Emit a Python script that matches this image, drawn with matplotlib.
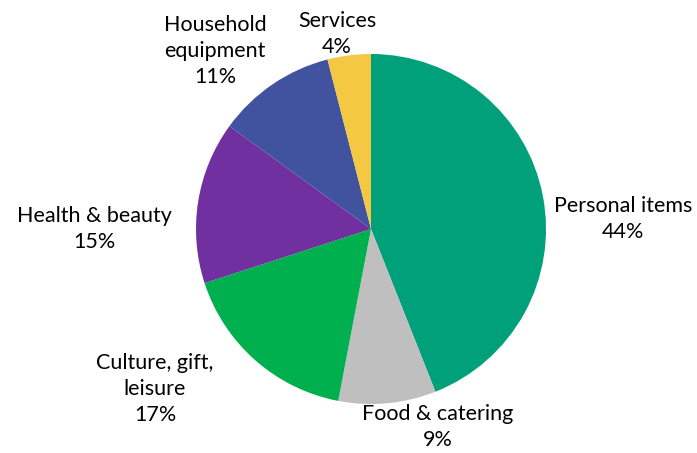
import matplotlib
matplotlib.use("Agg")
import matplotlib.pyplot as plt

categories = ["Personal items", "Food & catering", "Culture, gift,\nleisure",
              "Health & beauty", "Household\nequipment", "Services"]
shares = [44, 9, 17, 15, 11, 4]
colors = ["#00A07A", "#BFBFBF", "#00B04F", "#7030A0", "#41539F", "#F4C842"]

# label centres (x, y) in pixel-like axis units, origin bottom-left
label_pos = [(623, 234), (438, 26), (155, 64), (94, 224), (215, 402), (337, 419)]

fig = plt.figure(figsize=(6.97, 4.53), dpi=100)
ax = fig.add_axes([0, 0, 1, 1])

ax.pie(shares, colors=colors, startangle=90, counterclock=False,
       center=(371, 224), radius=175, frame=True,
       wedgeprops=dict(linewidth=0))
ax.set_xlim(0, 697)
ax.set_ylim(0, 453)
ax.set_aspect("equal")
ax.axis("off")

for name, val, (x, y) in zip(categories, shares, label_pos):
    ax.text(x, y, f"{name}\n{val}%", ha="center", va="center",
            fontsize=15.5, family="Lato", linespacing=1.4, color="#000000")

fig.savefig("out.png", dpi=100)
